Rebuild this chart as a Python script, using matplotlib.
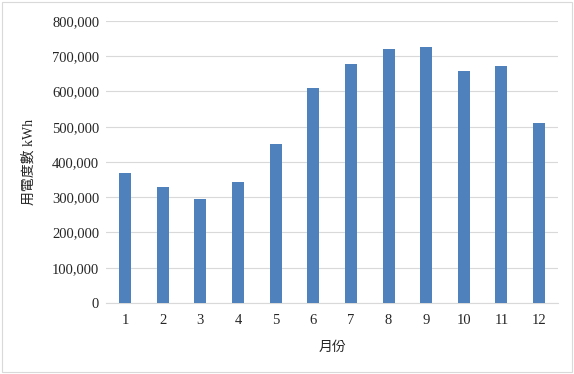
import matplotlib.pyplot as plt
from matplotlib.ticker import FuncFormatter
from matplotlib.patches import Rectangle

months = [1, 2, 3, 4, 5, 6, 7, 8, 9, 10, 11, 12]
usage = [369000, 330000, 294000, 344000, 451000, 610000, 678000, 720000, 726000, 658000, 672000, 511000]

plt.rcParams['font.family'] = ['Liberation Serif', 'Noto Sans CJK TC']

fig = plt.figure(figsize=(5.74, 3.74), dpi=100)
fig.patches.append(Rectangle((0.004, 0.005), 0.992, 0.99, transform=fig.transFigure,
                             fill=False, edgecolor='#d9d9d9', linewidth=0.8))
ax = fig.add_axes([0.185, 0.19, 0.787, 0.754])

ax.bar(months, usage, width=0.32, color='#4f81bd', zorder=3)

ax.set_xlim(0.5, 12.5)
ax.set_ylim(0, 800000)
ax.set_yticks(range(0, 800001, 100000))
ax.set_xticks(months)
ax.yaxis.set_major_formatter(FuncFormatter(lambda v, p: f'{int(v):,}'))
ax.grid(axis='y', color='#d9d9d9', linewidth=0.8, zorder=0)
for s in ['top', 'right', 'left']:
    ax.spines[s].set_visible(False)
ax.spines['bottom'].set_color('#d9d9d9')
ax.tick_params(axis='y', length=0, labelsize=10.5, colors='#262626', pad=5)
ax.tick_params(axis='x', length=0, labelsize=10.5, colors='#262626', pad=8)

ax.set_ylabel('用電度數 kWh', fontsize=10, color='#262626', labelpad=12)
ax.set_xlabel('月份', fontsize=10, color='#262626', labelpad=10)

fig.savefig('out.png', dpi=100)
